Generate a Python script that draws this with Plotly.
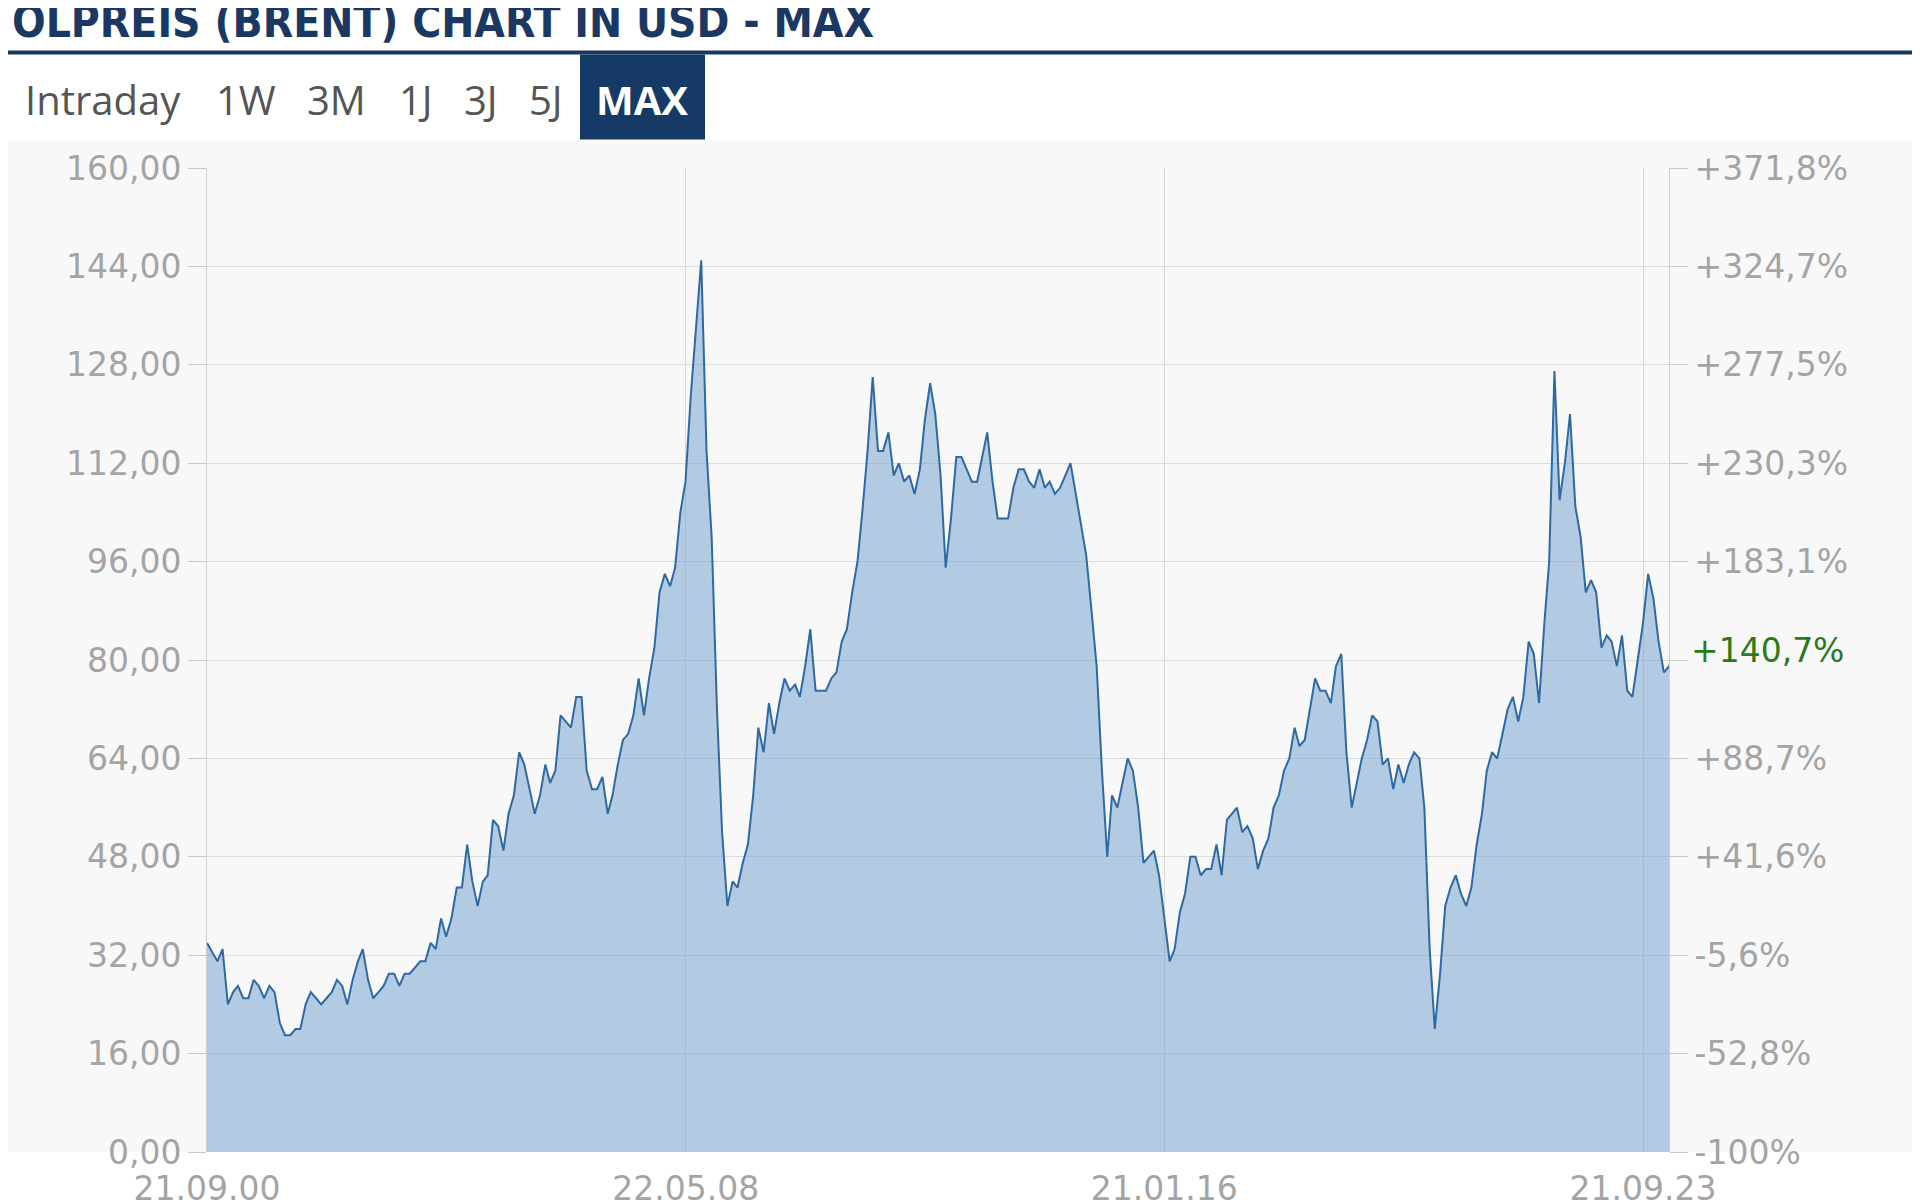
import pandas as pd
import plotly.graph_objects as go

prices = [34, 31, 33, 24,
 26,27,25,25,28,27,25,27,26,21,19,19,
 20,20,24,26,25,24,25,26,28,27,24,28,
 31,33,28,25,26,27,29,29,27,29,29,30,
 31,31,34,33,38,35,38,43,43,50,44,40,
 44,45,54,53,49,55,58,65,63,59,55,58,
 63,60,62,71,70,69,74,74,62,59,59,61,
 55,58,63,67,68,71,77,71,77,82,91,94,
 92,95,104,109,123,134,145,114,100,72,52,40,
 44,43,47,50,58,69,65,73,68,73,77,75,
 76,74,79,85,75,75,75,77,78,83,85,91,
 96,104,114,126,114,114,117,110,112,109,110,107,
 111,119,125,120,110,95,103,113,113,111,109,109,
 113,117,109,103,103,103,108,111,111,109,108,111,
 108,109,107,108,110,112,107,102,97,88,79,62,
 48,58,56,60,64,62,56,47,48,49,45,38,
 31,33,39,42,48,48,45,46,46,50,45,54,
 55,56,52,53,51,46,49,51,56,58,62,64,
 69,66,67,72,77,75,75,73,79,81,65,56,
 60,64,67,71,70,63,64,59,63,60,63,65,
 64,56,33,20,29,40,43,45,42,40,43,50,
 55,62,65,64,68,72,74,70,74,83,81,73,
 86,96,127,106,112,120,105,100,91,93,91,82,
 84,83,79,84,75,74,80,86,94,90,83,78,
 79,82]
dates = pd.date_range("2000-09-21", periods=len(prices), freq="MS") + pd.Timedelta(days=20)
dates = [pd.Timestamp("2000-09-21")] + list(dates[1:])

x_tick_vals = ["2000-09-21", "2008-05-22", "2016-01-21", "2023-09-21"]
x_tick_text = ["21.09.00", "22.05.08", "21.01.16", "21.09.23"]
y_vals = [0, 16, 32, 48, 64, 80, 96, 112, 128, 144, 160]
y_text = ["0,00", "16,00", "32,00", "48,00", "64,00", "80,00", "96,00", "112,00", "128,00", "144,00", "160,00"]
pct_text = ["-100%", "-52,8%", "-5,6%", "+41,6%", "+88,7%", "", "+183,1%", "+230,3%", "+277,5%", "+324,7%", "+371,8%"]
current_label = "+140,7%"
current_value = 81.6

L, R, T, B = 199, 259, 160, 0
PW, PH = 1920 - L - R, 1200 - T - B
def px(x): return (x - L) / PW
def py(y): return 1 + (T - y) / PH

grey = "#a4a4a4"
tf = dict(family="DejaVu Sans", size=33, color=grey)
fig = go.Figure()
fig.add_trace(go.Scatter(x=dates, y=prices, mode="lines", line=dict(color="#2f69a3", width=2),
                         fill="tozeroy", fillcolor="rgba(120,165,210,0.55)", showlegend=False))
fig.add_trace(go.Scatter(x=dates, y=prices, yaxis="y2", mode="lines", opacity=0, showlegend=False, hoverinfo="skip"))

fig.update_layout(
    width=1920, height=1200, paper_bgcolor="white", plot_bgcolor="#f8f8f8",
    margin=dict(l=L, r=R, t=T, b=B),
    xaxis=dict(range=["2000-09-21", "2024-02-20"], tickvals=x_tick_vals, ticktext=x_tick_text,
               showgrid=True, gridcolor="#d8d8d8", zeroline=False, ticks="",
               tickfont=tf, ticklabelstandoff=14),
    yaxis=dict(range=[0, 160], tickvals=y_vals, ticktext=y_text, showgrid=True, gridcolor="#dcdcdc",
               zeroline=False, ticks="outside", ticklen=18, tickcolor="#c8c8c8", showline=True,
               linecolor="#d0d0d0", tickfont=tf),
    yaxis2=dict(range=[0, 160], overlaying="y", side="right", tickvals=y_vals, ticktext=pct_text,
                showgrid=False, zeroline=False, ticks="outside", ticklen=18, tickcolor="#c8c8c8",
                showline=True, linecolor="#d0d0d0", tickfont=tf),
)
fig.add_annotation(xref="paper", yref="y", x=1, y=current_value, text=current_label, showarrow=False,
                   xanchor="left", xshift=20, font=dict(family="DejaVu Sans", size=33, color="#2a7a1a"))
# header
fig.add_annotation(xref="paper", yref="paper", x=px(2), y=py(34), xanchor="left", yanchor="bottom",
                   text="<b>ÖLPREIS (BRENT) CHART IN USD - MAX</b>", showarrow=False,
                   font=dict(family="DejaVu Sans Condensed", size=44, color="#1b3863"))
fig.add_shape(type="line", xref="paper", yref="paper", x0=px(0), x1=px(1905), y0=py(38), y1=py(38),
              line=dict(color="#1b3863", width=4))
fig.add_shape(type="rect", xref="paper", yref="paper", x0=px(0), x1=px(1905), y0=py(1200), y1=py(131),
              fillcolor="#f8f8f8", line=dict(width=0), layer="below")
fig.add_shape(type="rect", xref="paper", yref="paper", x0=px(572), x1=px(697), y0=py(130), y1=py(40),
              fillcolor="#163a66", line=dict(width=0), layer="below")
buttons = [("Intraday", 95), ("1W", 238), ("3M", 328), ("1J", 408), ("3J", 473), ("5J", 538)]
for t, cx in buttons:
    fig.add_annotation(xref="paper", yref="paper", x=px(cx), y=py(88), xanchor="center", yanchor="middle",
                       text=t, showarrow=False, font=dict(family="Open Sans", size=40, color="#555555"))
fig.add_annotation(xref="paper", yref="paper", x=px(634), y=py(88), xanchor="center", yanchor="middle",
                   text="<b>MAX</b>", showarrow=False, font=dict(family="Open Sans", size=40, color="white"))
fig.write_html("out.html")
